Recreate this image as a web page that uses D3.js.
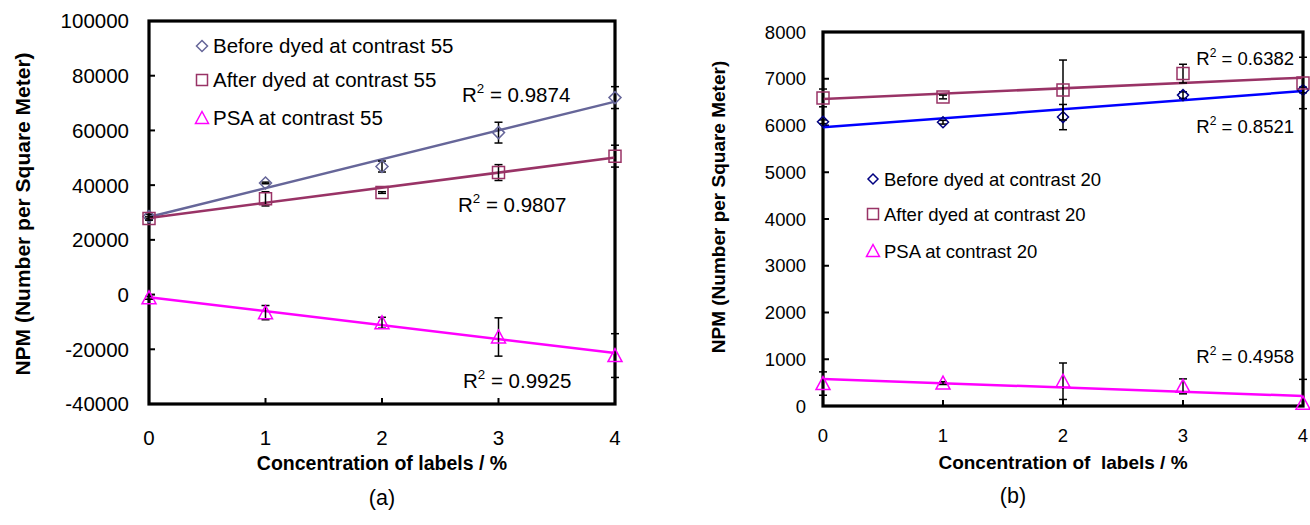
<!DOCTYPE html>
<html>
<head>
<meta charset="utf-8">
<script src="https://cdn.jsdelivr.net/npm/d3@7"></script>
<style>
  html, body { margin: 0; padding: 0; background: #fff; }
  svg { display: block; font-family: Arial, "Liberation Sans", sans-serif; }
</style>
</head>
<body>
<svg id="chart" width="1310" height="525"></svg>
<script>
// concentrations of labels (%)
const conc = [0, 1, 2, 3, 4];

// panel (a), contrast 55
const beforeA = [28500, 40800, 46800, 59200, 72000];
const beforeAErr = [800, 300, 2000, 3800, 4000];
const afterA = [27800, 35000, 37300, 44600, 50600];
const afterAErr = [600, 2600, 300, 2900, 4000];
const psaA = [-1200, -6600, -10300, -15500, -22300];
const psaAErr = [500, 2600, 2000, 7000, 8000];
const r2A = ["0.9874", "0.9807", "0.9925"];
const namesA = ["Before dyed at contrast 55", "After dyed at contrast 55", "PSA at contrast 55"];
const yTicksA = [-40000, -20000, 0, 20000, 40000, 60000, 80000, 100000];

// panel (b), contrast 20
const beforeB = [6080, 6070, 6180, 6650, 6760];
const beforeBErr = [40, 40, 270, 70, 60];
const afterB = [6590, 6610, 6760, 7110, 6910];
const afterBErr = [190, 40, 640, 200, 550];
const psaB = [480, 490, 530, 420, 60];
const psaBErr = [250, 30, 390, 160, 510];
const r2B = ["0.8521", "0.6382", "0.4958"];
const namesB = ["Before dyed at contrast 20", "After dyed at contrast 20", "PSA at contrast 20"];
const yTicksB = [0, 1000, 2000, 3000, 4000, 5000, 6000, 7000, 8000];

const svg = d3.select("#chart");

// marker glyphs (centred on 0,0)
function glyph(shape, s) {
  if (shape == "diamond") return `M0,${-s}L${s},0L0,${s}L${-s},0Z`;
  if (shape == "square") return `M${-s},${-s}H${s}V${s}H${-s}Z`;
  return `M0,${-s - 1}L${s + 1},${s}L${-s - 1},${s}Z`; // triangle
}

// least squares fit, like the excel trendline
function fit(xs, ys) {
  let mx = d3.mean(xs), my = d3.mean(ys);
  let sxy = d3.sum(xs, (x, i) => (x - mx) * (ys[i] - my));
  let sxx = d3.sum(xs, (x) => (x - mx) * (x - mx));
  let b = sxy / sxx;
  return { slope: b, icpt: my - b * mx };
}

function drawPanel(p) {
  let g = svg.append("g");
  let x = d3.scaleLinear().domain([0, 4]).range(p.xRange);
  let y = d3.scaleLinear().domain(p.yDomain).range(p.yRange);
  let [x0, x1] = p.xRange, [yb, yt] = p.yRange;

  let clipId = "clip" + p.id;
  g.append("clipPath").attr("id", clipId)
    .append("rect").attr("x", x0 - 20).attr("y", yt).attr("width", x1 - x0 + 40).attr("height", yb - yt);

  // frame
  g.append("rect")
    .attr("x", x0).attr("y", yt).attr("width", x1 - x0).attr("height", yb - yt)
    .attr("fill", "none").attr("stroke", "#000").attr("stroke-width", 3.2);

  // ticks (inside)
  g.selectAll(".yt").data(p.yTicks).join("line")
    .attr("x1", x0).attr("x2", x0 + 6)
    .attr("y1", (d) => y(d)).attr("y2", (d) => y(d))
    .attr("stroke", "#000").attr("stroke-width", 2);
  g.selectAll(".xt").data(conc).join("line")
    .attr("x1", (d) => x(d)).attr("x2", (d) => x(d))
    .attr("y1", yb).attr("y2", yb - 6)
    .attr("stroke", "#000").attr("stroke-width", 2);

  // tick labels
  g.selectAll(".yl").data(p.yTicks).join("text")
    .attr("x", x0 - p.yLabelGap).attr("y", (d) => y(d)).attr("dy", "0.36em")
    .attr("text-anchor", "end").attr("font-size", p.fs)
    .text((d) => d);
  g.selectAll(".xl").data(conc).join("text")
    .attr("x", (d) => x(d)).attr("y", p.xLabelY).attr("dy", "0.36em")
    .attr("text-anchor", "middle").attr("font-size", p.fs)
    .text((d) => d);

  // axis titles and caption
  g.append("text")
    .attr("transform", `translate(${p.yTitle[0]},${p.yTitle[1]}) rotate(-90)`)
    .attr("text-anchor", "middle").attr("dy", "0.36em")
    .attr("font-size", p.yTitleFs).attr("font-weight", "bold")
    .text("NPM (Number per Square Meter)");
  g.append("text")
    .attr("x", p.xTitle[0]).attr("y", p.xTitle[1]).attr("dy", "0.36em")
    .attr("text-anchor", "middle").attr("font-size", p.xTitleFs).attr("font-weight", "bold")
    .style("white-space", "pre")
    .text(p.xTitleText);
  g.append("text")
    .attr("x", p.caption[0]).attr("y", p.caption[1]).attr("dy", "0.36em")
    .attr("text-anchor", "middle").attr("font-size", 21.5)
    .text(p.captionText);

  p.series.forEach((s, si) => {
    let f = fit(conc, s.values);
    // trendline
    g.append("line")
      .attr("clip-path", `url(#${clipId})`)
      .attr("x1", x(0)).attr("y1", y(f.icpt))
      .attr("x2", x(4)).attr("y2", y(f.icpt + 4 * f.slope))
      .attr("stroke", s.line).attr("stroke-width", 2.5);

    // error bars
    let eb = g.append("g").attr("clip-path", `url(#${clipId})`)
      .attr("stroke", "#000").attr("stroke-width", 1.5);
    s.values.forEach((v, i) => {
      let cx = x(conc[i]), lo = y(v - s.err[i]), hi = y(v + s.err[i]);
      eb.append("line").attr("x1", cx).attr("x2", cx).attr("y1", lo).attr("y2", hi);
      eb.append("line").attr("x1", cx - 4).attr("x2", cx + 4).attr("y1", lo).attr("y2", lo);
      eb.append("line").attr("x1", cx - 4).attr("x2", cx + 4).attr("y1", hi).attr("y2", hi);
    });

    // markers
    g.selectAll(null).data(s.values).join("path")
      .attr("transform", (d, i) => `translate(${x(conc[i])},${y(d)})`)
      .attr("d", glyph(s.shape, s.size))
      .attr("fill", "none").attr("stroke", s.marker).attr("stroke-width", 1.5);

    // legend
    g.append("path")
      .attr("transform", `translate(${p.legend.mx},${p.legend.base[si] - 7})`)
      .attr("d", glyph(s.shape, s.size - 0.5))
      .attr("fill", "none").attr("stroke", s.marker).attr("stroke-width", 1.5);
    g.append("text")
      .attr("x", p.legend.tx).attr("y", p.legend.base[si])
      .attr("font-size", p.fs)
      .text(s.name);

    // R squared label
    let r = p.r2Pos[si];
    let t = g.append("text")
      .attr("x", r[0]).attr("y", r[1])
      .attr("text-anchor", p.r2Anchor).attr("font-size", p.fs);
    t.append("tspan").text("R");
    t.append("tspan").attr("font-size", p.fs * 0.65).attr("dy", -p.fs * 0.42).text("2");
    t.append("tspan").attr("dy", p.fs * 0.42).text(" = " + s.r2);
  });
}

drawPanel({
  id: "a",
  xRange: [149, 615], yDomain: [-40000, 100000], yRange: [404, 21],
  yTicks: yTicksA, fs: 20.5, yLabelGap: 20, xLabelY: 438,
  yTitle: [22, 214], yTitleFs: 21, xTitle: [382, 463], xTitleFs: 19.5,
  xTitleText: "Concentration of labels / %",
  caption: [382, 497], captionText: "(a)",
  legend: { mx: 202, tx: 213, base: [53, 87, 125] },
  r2Anchor: "start", r2Pos: [[462, 102], [458, 212], [463, 388]],
  series: [
    { name: namesA[0], values: beforeA, err: beforeAErr, shape: "diamond", size: 6, marker: "#666699", line: "#666699", r2: r2A[0] },
    { name: namesA[1], values: afterA, err: afterAErr, shape: "square", size: 6, marker: "#993366", line: "#993366", r2: r2A[1] },
    { name: namesA[2], values: psaA, err: psaAErr, shape: "triangle", size: 6, marker: "#FF00FF", line: "#FF00FF", r2: r2A[2] }
  ]
});

drawPanel({
  id: "b",
  xRange: [823, 1303], yDomain: [0, 8000], yRange: [406, 32],
  yTicks: yTicksB, fs: 18.5, yLabelGap: 17, xLabelY: 435,
  yTitle: [718, 207], yTitleFs: 19, xTitle: [1063, 462], xTitleFs: 19,
  xTitleText: "Concentration of  labels / %",
  caption: [1013, 495], captionText: "(b)",
  legend: { mx: 873, tx: 884, base: [186, 221, 258] },
  r2Anchor: "end", r2Pos: [[1294, 133], [1294, 65], [1294, 363]],
  series: [
    { name: namesB[0], values: beforeB, err: beforeBErr, shape: "diamond", size: 5.5, marker: "#000080", line: "#0000FF", r2: r2B[0] },
    { name: namesB[1], values: afterB, err: afterBErr, shape: "square", size: 6, marker: "#993366", line: "#993366", r2: r2B[1] },
    { name: namesB[2], values: psaB, err: psaBErr, shape: "triangle", size: 6, marker: "#FF00FF", line: "#FF00FF", r2: r2B[2] }
  ]
});
</script>
</body>
</html>
